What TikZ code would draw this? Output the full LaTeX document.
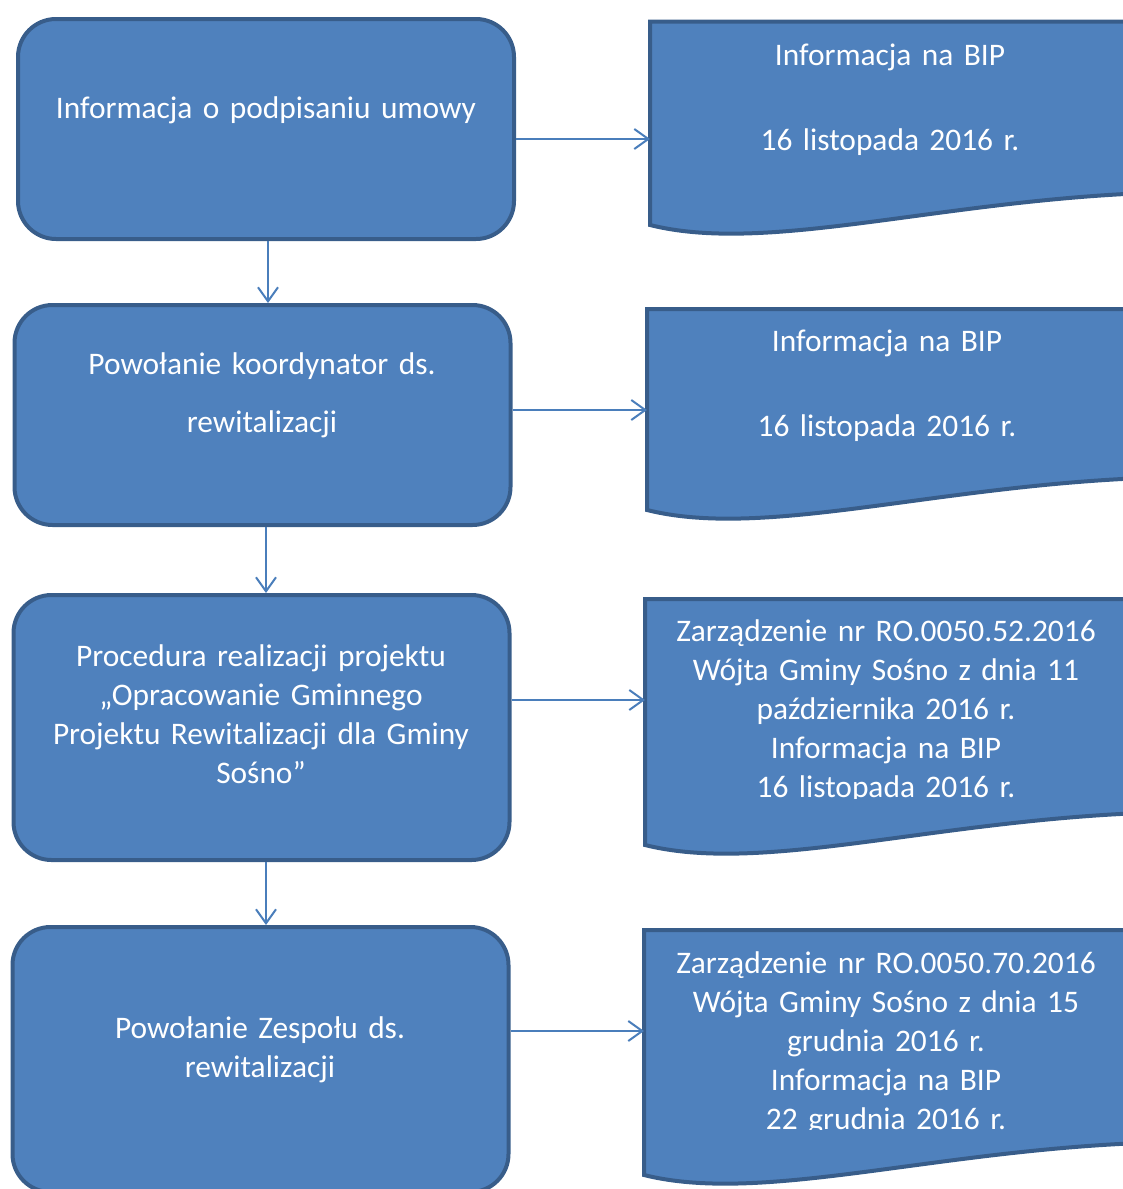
\documentclass[tikz,border=0pt]{standalone}
\usepackage{fontspec}
\setmainfont{Carlito}
\usetikzlibrary{arrows.meta}
\definecolor{boxfill}{HTML}{4F81BD}
\definecolor{boxline}{HTML}{385D8A}
\definecolor{flowline}{HTML}{4A7EBB}
\tikzset{
  stepbox/.style={draw=boxline,fill=boxfill,line width=4pt,rounded corners=38pt,minimum width=496pt,inner sep=0pt},
  doctext/.style={text=white,font=\fontsize{31.4}{39}\selectfont,align=center,text width=490pt,anchor=base,inner sep=0pt},
  flow/.style={draw=flowline,line width=2pt,-{Straight Barb[length=14pt,width=20pt]}},
}
% left, top, height
\newcommand{\docshape}[3]{%
  \path[draw=boxline,fill=boxfill,line width=4pt] (#1,#2) -- (#1,#2+#3)
    .. controls (#1+112,#2+#3+28) and (#1+272,#2+#3-20) .. (#1+475,#2+#3-31)
    -- (#1+520,#2+#3-33) -- (#1+520,#2) -- cycle;}

\begin{document}
\begin{tikzpicture}[x=1pt,y=-1pt]
  \useasboundingbox (0,0) rectangle (1123,1189);
  \clip (0,0) rectangle (1123,1189);
  %left
  \node[stepbox,minimum height=220pt] (b1) at (266,129) {};
  \node[stepbox,minimum height=220pt] (b2) at (262.5,415) {};
  \node[stepbox,minimum height=265pt] (b3) at (261.5,727.5) {};
  \node[stepbox,minimum height=265pt] (b4) at (260.5,1059.5) {};
  \node[doctext] (t1) at (266,118) {Informacja o podpisaniu umowy};
  \node[doctext] (t2) at (262,374) {Powołanie koordynator ds.\\[19pt]rewitalizacji};
  \node[doctext] (t3) at (261,666) {Procedura realizacji projektu\\„Opracowanie Gminnego\\Projektu Rewitalizacji dla Gminy\\Sośno”};
  \node[doctext] (t4) at (260,1038) {Powołanie Zespołu ds.\\rewitalizacji};
  %right
  \docshape{650}{21.5}{203.5}
  \docshape{647}{309}{201}
  \docshape{645}{599}{246}
  \docshape{644}{930}{245}
  \coordinate (d1) at (650,139);
  \coordinate (d2) at (647,410);
  \coordinate (d3) at (645,700);
  \coordinate (d4) at (644,1031);
  \node[doctext] (s1) at (890,65) {Informacja na BIP\\[46pt]16 listopada 2016 r.};
  \node[doctext] (s2) at (887,351) {Informacja na BIP\\[46pt]16 listopada 2016 r.};
  \begin{scope}
    \clip (640,590) rectangle (1123,798);
    \node[doctext] (s3) at (886,641) {Zarządzenie nr RO.0050.52.2016\\Wójta Gminy Sośno z dnia 11\\października 2016 r.\\Informacja na BIP\\16 listopada 2016 r.};
  \end{scope}
  \begin{scope}
    \clip (640,920) rectangle (1123,1129);
    \node[doctext] (s4) at (886,973) {Zarządzenie nr RO.0050.70.2016\\Wójta Gminy Sośno z dnia 15\\grudnia 2016 r.\\Informacja na BIP\\22 grudnia 2016 r.};
  \end{scope}
  %arrows
  \draw[flow] ([xshift=2pt]b1.south) -- ([xshift=2pt]b1.south |- b2.north);
  \draw[flow] ([xshift=3.5pt]b2.south) -- ([xshift=3.5pt]b2.south |- b3.north);
  \draw[flow] ([xshift=4.5pt]b3.south) -- ([xshift=4.5pt]b3.south |- b4.north);
  \draw[flow] (b1.east |- d1) -- (d1);
  \draw[flow] (b2.east |- d2) -- (d2);
  \draw[flow] (b3.east |- d3) -- (d3);
  \draw[flow] (b4.east |- d4) -- (d4);
\end{tikzpicture}
\end{document}
